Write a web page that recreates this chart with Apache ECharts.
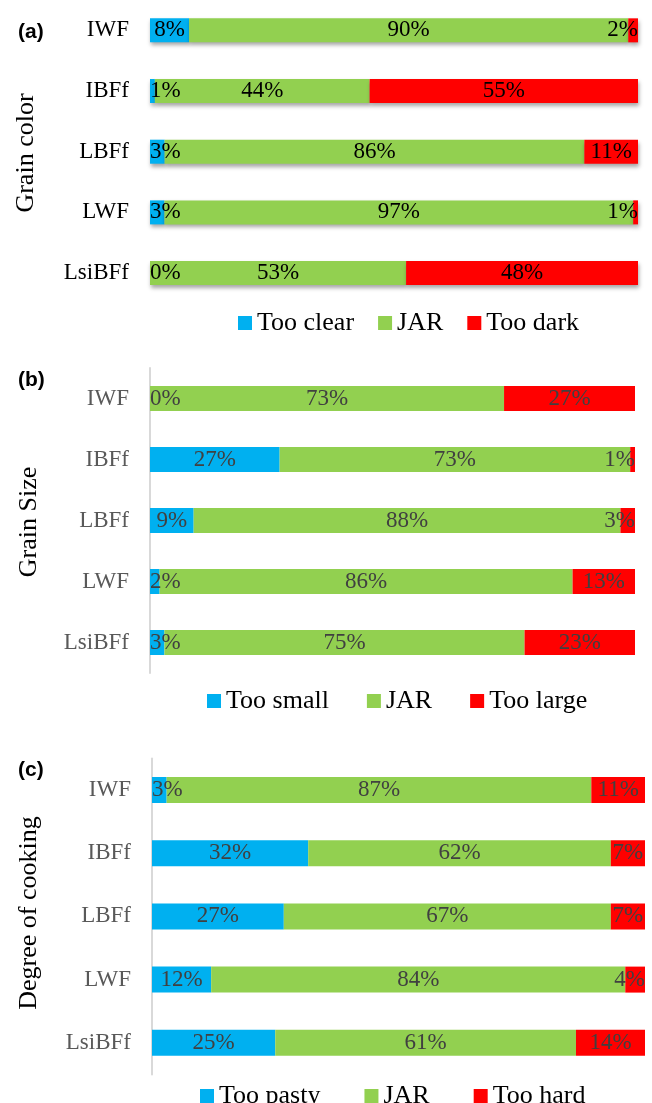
<!DOCTYPE html>
<html>
<head>
<meta charset="utf-8">
<script src="https://cdn.jsdelivr.net/npm/echarts@6/dist/echarts.min.js"></script>
<style>
html,body{margin:0;padding:0;background:#fff;}
#chart{width:652px;height:1103px;}
</style>
</head>
<body>
<div id="chart"></div>
<script>
// ---- data ----
const categories = ['IWF', 'IBFf', 'LBFf', 'LWF', 'LsiBFf'];

const colorNames = ['Too clear', 'JAR', 'Too dark'];
const colorTooClear = [8, 1, 3, 3, 0];
const colorJAR = [90, 44, 86, 97, 53];
const colorTooDark = [2, 55, 11, 1, 48];

const sizeNames = ['Too small', 'JAR', 'Too large'];
const sizeTooSmall = [0, 27, 9, 2, 3];
const sizeJAR = [73, 73, 88, 86, 75];
const sizeTooLarge = [27, 1, 3, 13, 23];

const cookNames = ['Too pasty', 'JAR', 'Too hard'];
const cookTooPasty = [3, 32, 27, 12, 25];
const cookJAR = [87, 62, 67, 84, 61];
const cookTooHard = [11, 7, 7, 4, 14];

const panelTitles = ['Grain color', 'Grain Size', 'Degree of cooking'];
const panelTags = ['(a)', '(b)', '(c)'];

// ---- chart ----
const W = 652;
const SERIF = '"Liberation Serif", "Times New Roman", serif';
const SANS = '"Liberation Sans", Arial, sans-serif';
const COLORS = ['#00B0F0', '#92D050', '#FF0000'];

const panels = [
  { names: colorNames, values: [colorTooClear, colorJAR, colorTooDark], labelColor: '#000000', catColor: '#000000', axisLine: false, shadow: true, barWidth: 24 },
  { names: sizeNames, values: [sizeTooSmall, sizeJAR, sizeTooLarge], labelColor: '#404040', catColor: '#595959', axisLine: true, shadow: false, barWidth: 25 },
  { names: cookNames, values: [cookTooPasty, cookJAR, cookTooHard], labelColor: '#404040', catColor: '#595959', axisLine: true, shadow: false, barWidth: 26 }
];

const grids = [
  { left: 150, right: 14, top: -2.6, height: 306 },
  { left: 150, right: 17, top: 368, height: 305 },
  { left: 152, right: 7, top: 758.4, height: 316 }
];

const xAxes = [], yAxes = [], series = [];
panels.forEach((p, gi) => {
  const gl = grids[gi].left, gr = W - grids[gi].right;
  xAxes.push({ gridIndex: gi, type: 'value', min: 0, max: 100, show: false });
  yAxes.push({
    gridIndex: gi, type: 'category', data: categories, inverse: true,
    axisTick: { show: false },
    axisLine: { show: p.axisLine, lineStyle: { color: '#D9D9D9', width: 2 } },
    axisLabel: { color: p.catColor, fontFamily: SERIF, fontSize: 23, margin: 21 },
    splitLine: { show: false }
  });
  const sums = categories.map((c, i) => p.values.reduce((s, arr) => s + arr[i], 0));
  p.values.forEach((arr, si) => {
    series.push({
      type: 'bar',
      name: p.names[si],
      xAxisIndex: gi, yAxisIndex: gi,
      stack: 'panel' + gi,
      barWidth: p.barWidth,
      color: COLORS[si],
      itemStyle: p.shadow ? { color: COLORS[si], shadowColor: 'rgba(0,0,0,0.35)', shadowBlur: 4, shadowOffsetX: 1, shadowOffsetY: 3 } : { color: COLORS[si] },
      label: {
        show: true, position: 'inside',
        color: p.labelColor, fontFamily: SERIF, fontSize: 23,
        formatter: (q) => arr[q.dataIndex] + '%'
      },
      // keep labels inside the plot area, like the original
      labelLayout: (params) => {
        const r = params.labelRect;
        let dx = 0;
        if (r.x < gl) dx = gl - r.x;
        else if (r.x + r.width > gr) dx = gr - (r.x + r.width);
        return { dx: dx };
      },
      emphasis: { disabled: true },
      data: arr.map((v, i) => v * 100 / sums[i])
    });
  });
});

const legendBase = {
  orient: 'horizontal', icon: 'rect', itemWidth: 14, itemHeight: 14,
  textStyle: { fontFamily: SERIF, fontSize: 26, color: '#000000' },
  selectedMode: false
};
const legends = [
  Object.assign({}, legendBase, { data: colorNames, left: 233, top: 305, itemGap: 24 }),
  Object.assign({}, legendBase, { data: sizeNames, left: 202, top: 683, itemGap: 38 }),
  Object.assign({}, legendBase, { data: cookNames, left: 195, top: 1078, itemGap: 44 })
];

const titleX = [26, 29, 29];
const titleY = [153, 522, 913];
const tagY = [32, 380, 770];
const graphics = [];
panelTitles.forEach((t, i) => {
  graphics.push({
    type: 'text', x: titleX[i], y: titleY[i], rotation: Math.PI / 2,
    style: { text: t, font: '26px ' + SERIF, fill: '#000000', textAlign: 'center', textVerticalAlign: 'middle' }
  });
  graphics.push({
    type: 'text', x: 18, y: tagY[i],
    style: { text: panelTags[i], font: 'bold 21px ' + SANS, fill: '#000000', textAlign: 'left', textVerticalAlign: 'middle' }
  });
});

const chart = echarts.init(document.getElementById('chart'), null, { renderer: 'canvas' });
chart.setOption({
  backgroundColor: '#ffffff',
  animation: false,
  grid: grids,
  xAxis: xAxes,
  yAxis: yAxes,
  legend: legends,
  series: series,
  graphic: graphics
});
</script>
</body>
</html>
